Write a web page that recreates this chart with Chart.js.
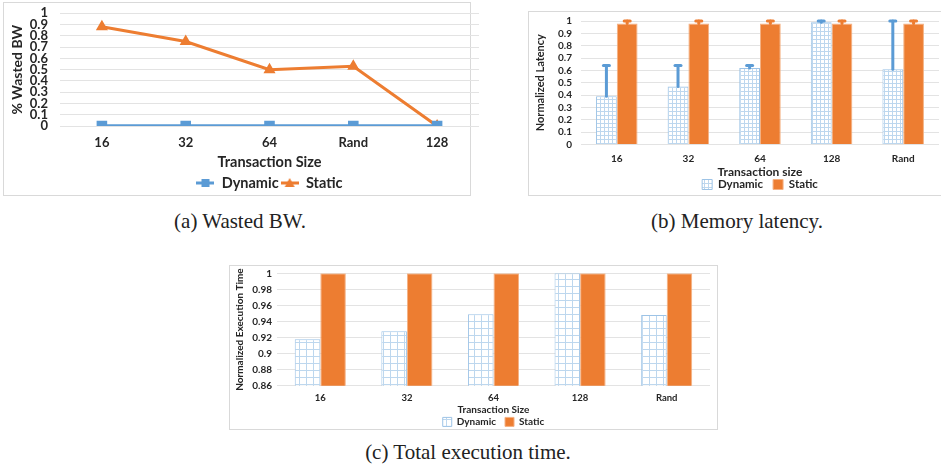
<!DOCTYPE html>
<html>
<head>
<meta charset="utf-8">
<script src="https://cdn.jsdelivr.net/npm/chart.js@4/dist/chart.umd.min.js"></script>
<style>
  html, body { margin: 0; padding: 0; background: #fff; width: 941px; height: 468px; overflow: hidden; }
  .box { position: absolute; border: 1px solid #d9d9d9; box-sizing: border-box; }
  .wrap { position: absolute; }
  .cap { position: absolute; font-family: "Liberation Serif", "DejaVu Serif", serif; font-size: 21px; line-height: 24px; color: #222; text-align: center; white-space: nowrap; }
</style>
</head>
<body>
<div class="box" style="left:3px; top:2px; width:468px; height:194px;"></div>
<div class="box" style="left:528px; top:11px; width:430px; height:185px;"></div>
<div class="box" style="left:229px; top:265px; width:489px; height:165px;"></div>

<div class="wrap" style="left:3px; top:2px; width:533px; height:193px;"><canvas id="bw"></canvas></div>
<div class="wrap" style="left:528px; top:11px; width:464px; height:184px;"><canvas id="lat"></canvas></div>
<div class="wrap" style="left:229px; top:265px; width:529px; height:164px;"><canvas id="exec"></canvas></div>

<div class="cap" style="left:90px; top:209px; width:300px;">(a) Wasted BW.</div>
<div class="cap" style="left:587px; top:209px; width:300px;">(b) Memory latency.</div>
<div class="cap" style="left:318px; top:440px; width:300px;">(c) Total execution time.</div>

<script>
// (a) wasted bandwidth
const bwSizes = ['16', '32', '64', 'Rand', '128'];
const bwDynamic = [0, 0, 0, 0, 0];
const bwStatic = [0.88, 0.75, 0.50, 0.53, 0];

// (b) memory latency
const latSizes = ['16', '32', '64', '128', 'Rand'];
const latDynamic = [0.39, 0.47, 0.62, 0.99, 0.61];
const latDynamicErr = [0.64, 0.64, 0.64, 1.0, 1.0];
const latStatic = [0.98, 0.98, 0.98, 0.98, 0.98];
const latStaticErr = [1.0, 1.0, 1.0, 1.0, 1.0];

// (c) total execution time
const execSizes = ['16', '32', '64', '128', 'Rand'];
const execDynamic = [0.918, 0.928, 0.949, 1.0, 0.948];
const execStatic = [1, 1, 1, 1, 1];

const BLUE = '#5b9bd5';
const ORANGE = '#ed7d31';
const GRID = '#e3e3e3';
const TXT = '#262626';
const NONE = 'rgba(0,0,0,0)';

const fmt = v => String(+v.toFixed(2));

function gridPattern(step) {
  const c = document.createElement('canvas');
  c.width = step; c.height = step;
  const g = c.getContext('2d');
  g.fillStyle = '#fff';
  g.fillRect(0, 0, step, step);
  g.fillStyle = '#bdd7ee';
  g.fillRect(0, 0, step, 1);
  g.fillRect(0, 0, 1, step);
  return g.createPattern(c, 'repeat');
}

function legendIcon(color, shape) {
  const c = document.createElement('canvas');
  c.width = 18; c.height = 10;
  const g = c.getContext('2d');
  g.strokeStyle = color; g.lineWidth = 3;
  g.beginPath(); g.moveTo(0, 5); g.lineTo(18, 5); g.stroke();
  g.fillStyle = color;
  if (shape === 'rect') {
    g.fillRect(5, 1, 8, 8);
  } else {
    g.beginPath(); g.moveTo(9, 0); g.lineTo(14, 9); g.lineTo(4, 9); g.closePath(); g.fill();
  }
  return c;
}

// empty right-hand axis, only there to keep the plot centred under the legend
function spacerAxis(w) {
  return {
    position: 'right',
    display: true,
    grid: { display: false },
    border: { display: false },
    ticks: { display: false },
    afterFit(s) { s.width = w; }
  };
}

const errorBars = {
  id: 'errorBars',
  afterDatasetsDraw(chart) {
    const ctx = chart.ctx;
    const y = chart.scales.y;
    chart.data.datasets.forEach((ds, i) => {
      if (!ds.errHigh) return;
      chart.getDatasetMeta(i).data.forEach((bar, j) => {
        const top = y.getPixelForValue(ds.errHigh[j]);
        ctx.save();
        ctx.strokeStyle = ds.errColor;
        ctx.lineWidth = 3;
        ctx.lineCap = 'round';
        ctx.beginPath();
        ctx.moveTo(bar.x, bar.y);
        ctx.lineTo(bar.x, top);
        ctx.stroke();
        ctx.beginPath();
        ctx.moveTo(bar.x - 3, top);
        ctx.lineTo(bar.x + 3, top);
        ctx.stroke();
        ctx.restore();
      });
    });
  }
};

new Chart(document.getElementById('bw'), {
  type: 'line',
  data: {
    labels: bwSizes,
    datasets: [{
      label: 'Dynamic',
      data: bwDynamic,
      borderColor: BLUE,
      backgroundColor: BLUE,
      borderWidth: 3.5,
      pointStyle: 'rect',
      pointRadius: 5
    }, {
      label: 'Static',
      data: bwStatic,
      borderColor: ORANGE,
      backgroundColor: ORANGE,
      borderWidth: 3,
      pointStyle: 'triangle',
      pointRadius: 4
    }]
  },
  options: {
    animation: false,
    responsive: true,
    maintainAspectRatio: false,
    layout: { padding: { top: 11.3, right: 0, bottom: -5.25, left: 0 } },
    plugins: {
      legend: {
        position: 'bottom',
        labels: {
          color: TXT,
          font: { family: 'Lato', size: 14.5, weight: 'bold' },
          usePointStyle: true,
          pointStyleWidth: 18,
          padding: 2,
          generateLabels(chart) {
            const items = Chart.defaults.plugins.legend.labels.generateLabels(chart);
            items[0].pointStyle = legendIcon(BLUE, 'rect');
            items[1].pointStyle = legendIcon(ORANGE, 'triangle');
            return items;
          }
        }
      },
      tooltip: { enabled: false }
    },
    scales: {
      x: {
        offset: true,
        grid: { display: false, drawTicks: false },
        border: { display: false },
        ticks: { color: TXT, padding: 8.5, font: { family: 'Lato', size: 13, weight: 'bold' } },
        title: { display: true, text: 'Transaction Size', color: TXT, padding: { top: -5.3, bottom: 3 },
                 font: { family: 'Lato', size: 14.5, weight: 'bold' } }
      },
      y: {
        min: 0,
        max: 1,
        afterFit(s) { s.width = 57; },
        ticks: { stepSize: 0.1, autoSkip: false, callback: fmt, color: TXT, padding: 3,
                 font: { family: 'Lato', size: 13, weight: 'bold' } },
        grid: { color: GRID, tickColor: NONE, tickLength: 9 },
        border: { display: false },
        title: { display: true, text: '% Wasted BW', color: TXT, padding: { top: 6, bottom: 0 },
                 font: { family: 'Lato', size: 14, weight: 'bold' } }
      },
      yR: spacerAxis(57)
    }
  }
});

new Chart(document.getElementById('lat'), {
  type: 'bar',
  data: {
    labels: latSizes,
    datasets: [{
      label: 'Dynamic',
      data: latDynamic,
      errHigh: latDynamicErr,
      errColor: BLUE,
      backgroundColor: gridPattern(4),
      borderColor: '#9dc3e6',
      borderWidth: 1
    }, {
      label: 'Static',
      data: latStatic,
      errHigh: latStaticErr,
      errColor: ORANGE,
      backgroundColor: ORANGE,
      borderColor: '#f4b183',
      borderWidth: 1
    }]
  },
  plugins: [errorBars],
  options: {
    animation: false,
    responsive: true,
    maintainAspectRatio: false,
    categoryPercentage: 0.58,
    barPercentage: 1,
    layout: { padding: { top: 10, right: 0, bottom: -5.25, left: 0 } },
    plugins: {
      legend: {
        position: 'bottom',
        labels: {
          color: TXT,
          font: { family: 'Lato', size: 11.5, weight: 'bold' },
          boxWidth: 10,
          boxHeight: 10,
          padding: 10
        }
      },
      tooltip: { enabled: false }
    },
    scales: {
      x: {
        grid: { display: false, drawTicks: false },
        border: { display: false },
        ticks: { color: TXT, padding: 8.8, font: { family: 'Lato', size: 10, weight: 'bold' } },
        title: { display: true, text: 'Transaction size', color: TXT, padding: { top: -9.2, bottom: -10.5 },
                 font: { family: 'Lato', size: 12, weight: 'bold' } }
      },
      y: {
        min: 0,
        max: 1,
        afterFit(s) { s.width = 53; },
        ticks: { stepSize: 0.1, autoSkip: false, callback: fmt, color: TXT, padding: 3,
                 font: { family: 'Lato', size: 10, weight: 'bold' } },
        grid: { color: GRID, tickColor: NONE, tickLength: 6 },
        border: { display: false },
        title: { display: true, text: 'Normalized Latency', color: TXT, padding: { top: 5.4, bottom: 0 },
                 font: { family: 'Lato', size: 11, weight: 'bold' } }
      },
      yR: spacerAxis(53)
    }
  }
});

new Chart(document.getElementById('exec'), {
  type: 'bar',
  data: {
    labels: execSizes,
    datasets: [{
      label: 'Dynamic',
      data: execDynamic,
      backgroundColor: gridPattern(7),
      borderColor: '#9dc3e6',
      borderWidth: 1
    }, {
      label: 'Static',
      data: execStatic,
      backgroundColor: ORANGE,
      borderColor: '#f4b183',
      borderWidth: 1
    }]
  },
  options: {
    animation: false,
    responsive: true,
    maintainAspectRatio: false,
    categoryPercentage: 0.59,
    barPercentage: 1,
    layout: { padding: { top: 8.3, right: 0, bottom: -7.9, left: 0 } },
    plugins: {
      legend: {
        position: 'bottom',
        labels: {
          color: TXT,
          font: { family: 'Lato', size: 10, weight: 'bold' },
          boxWidth: 9,
          boxHeight: 9,
          padding: 9
        }
      },
      tooltip: { enabled: false }
    },
    scales: {
      x: {
        grid: { display: false, drawTicks: false },
        border: { display: false },
        ticks: { color: TXT, padding: 6.5, font: { family: 'Lato', size: 9.5, weight: 'bold' } },
        title: { display: true, text: 'Transaction Size', color: TXT, padding: { top: -6.5, bottom: -7.8 },
                 font: { family: 'Lato', size: 10, weight: 'bold' } }
      },
      y: {
        min: 0.86,
        max: 1,
        afterFit(s) { s.width = 48; },
        ticks: { stepSize: 0.02, autoSkip: false, callback: fmt, color: TXT, padding: 2,
                 font: { family: 'Lato', size: 10, weight: 'bold' } },
        grid: { color: GRID, tickColor: NONE, tickLength: 3 },
        border: { display: false },
        title: { display: true, text: 'Normalized Execution Time', color: TXT, padding: { top: 5, bottom: 0 },
                 font: { family: 'Lato', size: 10, weight: 'bold' } }
      },
      yR: spacerAxis(48)
    }
  }
});
</script>
</body>
</html>
